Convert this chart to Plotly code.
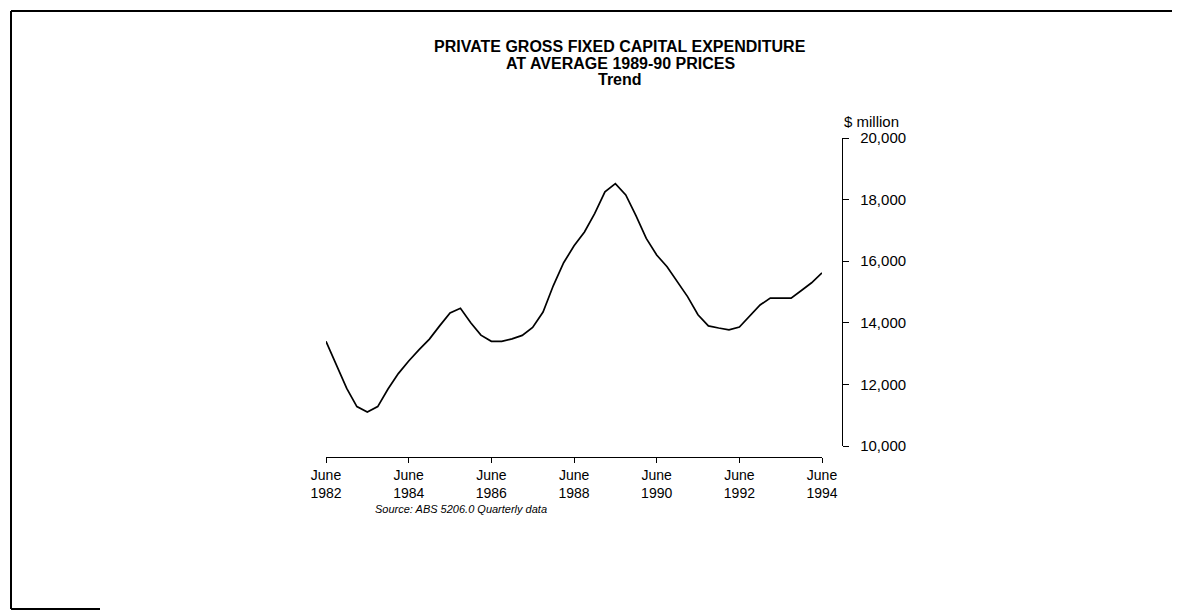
import pandas as pd
import plotly.graph_objects as go

# ---- data ----
quarters = pd.date_range("1982-06-01", "1994-06-01", freq="3MS")
expenditure = [13400, 12600, 11870, 11280, 11100, 11280, 11850, 12350, 12760, 13130,
               13470, 13900, 14320, 14470, 14000, 13600, 13400, 13400, 13480, 13590,
               13850, 14350, 15210, 15950, 16500, 16950, 17550, 18250, 18520, 18150,
               17470, 16740, 16200, 15820, 15350, 14850, 14260, 13900, 13830, 13770,
               13860, 14230, 14580, 14800, 14810, 14800, 15050, 15300, 15620]
x_tick_vals = ["1982-06-01", "1984-06-01", "1986-06-01", "1988-06-01",
               "1990-06-01", "1992-06-01", "1994-06-01"]
x_tick_text = ["June<br>1982", "June<br>1984", "June<br>1986", "June<br>1988",
               "June<br>1990", "June<br>1992", "June<br>1994"]
y_tick_vals = [10000, 12000, 14000, 16000, 18000, 20000]
title_lines = ["PRIVATE GROSS FIXED CAPITAL EXPENDITURE", "AT AVERAGE 1989-90 PRICES", "Trend"]
unit_label = "$ million"
source_text = "Source: ABS 5206.0 Quarterly data"

# ---- geometry (pixels in the screenshot; page body has an 8px margin) ----
OFF = 8
W, H = 1180, 610
PL, PR, PT, PB = 326, 842, 138, 457   # plot box in screenshot pixels
L = PL - OFF
T = PT - OFF
R = W - (PR - OFF)
B = H - (PB - OFF)
PW = W - L - R
PH = H - T - B


def px(xp):
    return (xp - OFF - L) / PW


def py(yp):
    return (H - B - (yp - OFF)) / PH


FONT = "Liberation Sans, Arial, Helvetica, sans-serif"

fig = go.Figure()
fig.add_trace(go.Scatter(x=quarters, y=expenditure, mode="lines",
                         line=dict(color="black", width=1.7), showlegend=False,
                         hoverinfo="skip"))

fig.update_layout(
    width=W, height=H,
    margin=dict(l=L, r=R, t=T, b=B),
    paper_bgcolor="white", plot_bgcolor="white",
    font=dict(family=FONT, color="black", size=14),
    xaxis=dict(domain=[0, 496 / PW], anchor="free", position=0,
               range=[x_tick_vals[0], x_tick_vals[-1]],
               tickvals=x_tick_vals, ticktext=x_tick_text,
               showgrid=False, zeroline=False, showline=True, linecolor="black",
               linewidth=1.4, ticks="outside", ticklen=5, tickwidth=1.2,
               tickcolor="black", tickfont=dict(size=14, family=FONT)),
    yaxis=dict(domain=[(PB - 446) / PH, 1], anchor="free", position=1, side="right",
               range=[10000, 20000], tickvals=y_tick_vals, tickformat=",d",
               showgrid=False, zeroline=False, showline=True, linecolor="black",
               linewidth=1.4, ticks="outside", ticklen=6, tickwidth=1.2,
               tickcolor="black", ticklabelstandoff=8,
               tickfont=dict(size=15, family=FONT)),
)

ann = []
for line, ypix in zip(title_lines, [47, 63, 79]):
    ann.append(dict(text=f"<b>{line}</b>", x=px(620), y=py(ypix), xref="paper", yref="paper",
                    xanchor="center", yanchor="middle", showarrow=False,
                    font=dict(size=16, family=FONT, color="black")))
ann.append(dict(text=unit_label, x=px(842), y=py(121),
                xref="paper", yref="paper", xanchor="left", yanchor="middle",
                showarrow=False, font=dict(size=15, family=FONT, color="black")))
ann.append(dict(text=f"<i>{source_text}</i>", x=px(373), y=py(509), xref="paper", yref="paper",
                xanchor="left", yanchor="middle", showarrow=False,
                font=dict(size=11, family=FONT, color="black")))
fig.update_layout(annotations=ann)

# page frame lines
frame = dict(type="line", xref="paper", yref="paper", line=dict(color="black", width=2))
fig.add_shape(**frame, x0=px(11), x1=px(1190), y0=py(11), y1=py(11))
fig.add_shape(**frame, x0=px(11), x1=px(11), y0=py(11), y1=py(609))
fig.add_shape(**frame, x0=px(11), x1=px(100), y0=py(609), y1=py(609))

fig.write_html("out.html")
